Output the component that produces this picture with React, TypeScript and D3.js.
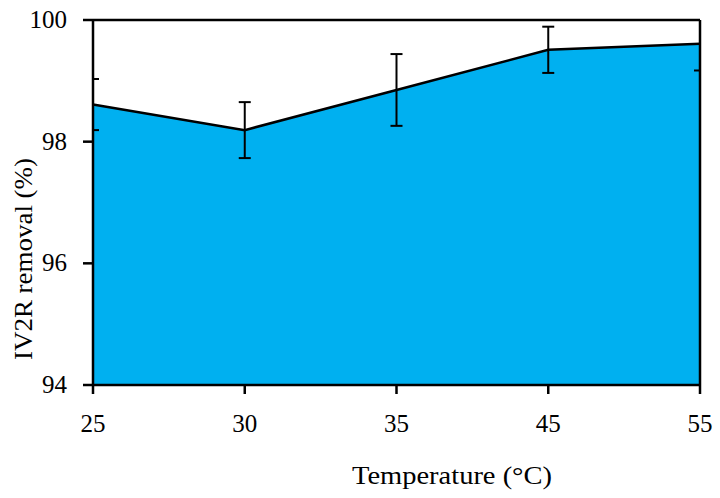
import React from "react";
import * as d3 from "d3";

const categories = ["25", "30", "35", "45", "55"];
const removal = [98.61, 98.19, 98.85, 99.51, 99.61];
const errors = [0.42, 0.46, 0.59, 0.38, 0.44];
const yTicks = [94, 96, 98, 100];

const W = 720;
const H = 498;
const left = 93;
const right = 700;
const top = 20;
const bottom = 385;
const FONT = "'Liberation Serif', 'Times New Roman', serif";

export default function App() {
  const x = d3.scalePoint<string>().domain(categories).range([left, right]);
  const y = d3.scaleLinear().domain([94, 100]).range([bottom, top]);
  const data = categories.map((c, i) => ({ c, v: removal[i], e: errors[i] }));

  const area = d3
    .area<{ c: string; v: number }>()
    .x((d) => x(d.c) as number)
    .y0(y(94))
    .y1((d) => y(d.v));
  const line = d3
    .line<{ c: string; v: number }>()
    .x((d) => x(d.c) as number)
    .y((d) => y(d.v));

  return (
    <svg
      width={W}
      height={H}
      style={{ position: "absolute", left: 0, top: 0, background: "#fff" }}
      fontFamily={FONT}
    >
      <defs>
        <clipPath id="plotClip">
          <rect x={left} y={top} width={right - left} height={bottom - top} />
        </clipPath>
      </defs>
      <path d={area(data) || ""} fill="#00B0F0" />
      <path d={line(data) || ""} fill="none" stroke="#000" strokeWidth={2.5} />
      <g clipPath="url(#plotClip)" stroke="#000" strokeWidth={2}>
        {data.map((d, i) => {
          const cx = x(d.c) as number;
          const y1 = y(d.v + d.e);
          const y2 = y(d.v - d.e);
          return (
            <g key={i}>
              <line x1={cx} x2={cx} y1={y1} y2={y2} />
              <line x1={cx - 6} x2={cx + 6} y1={y1} y2={y1} />
              <line x1={cx - 6} x2={cx + 6} y1={y2} y2={y2} />
            </g>
          );
        })}
      </g>
      {/* frame */}
      <line x1={left} x2={right} y1={top} y2={top} stroke="#000" strokeWidth={2.5} />
      <line x1={right} x2={right} y1={top} y2={bottom} stroke="#000" strokeWidth={2.5} />
      <line x1={left} x2={left} y1={top - 1} y2={bottom + 1} stroke="#000" strokeWidth={2.5} />
      <line x1={left - 1} x2={right + 1} y1={bottom} y2={bottom} stroke="#000" strokeWidth={2.5} />
      {/* y ticks */}
      {yTicks.map((t) => (
        <g key={t}>
          <line x1={left - 10} x2={left} y1={y(t)} y2={y(t)} stroke="#000" strokeWidth={2.5} />
          <text x={67} y={y(t) + 8} textAnchor="end" fontSize={25} fill="#000">
            {t}
          </text>
        </g>
      ))}
      {/* x ticks */}
      {categories.map((c) => (
        <g key={c}>
          <line x1={x(c) as number} x2={x(c) as number} y1={bottom} y2={bottom + 9} stroke="#000" strokeWidth={2.5} />
          <text x={x(c) as number} y={432} textAnchor="middle" fontSize={25} fill="#000">
            {c}
          </text>
        </g>
      ))}
      <text
        x={452}
        y={484}
        textAnchor="middle"
        fontSize={25}
        textLength={200}
        lengthAdjust="spacingAndGlyphs"
        fill="#000"
      >
        Temperature (°C)
      </text>
      <text
        transform={`translate(32, 259) rotate(-90)`}
        textAnchor="middle"
        fontSize={25}
        textLength={202}
        lengthAdjust="spacingAndGlyphs"
        fill="#000"
      >
        IV2R removal (%)
      </text>
    </svg>
  );
}
